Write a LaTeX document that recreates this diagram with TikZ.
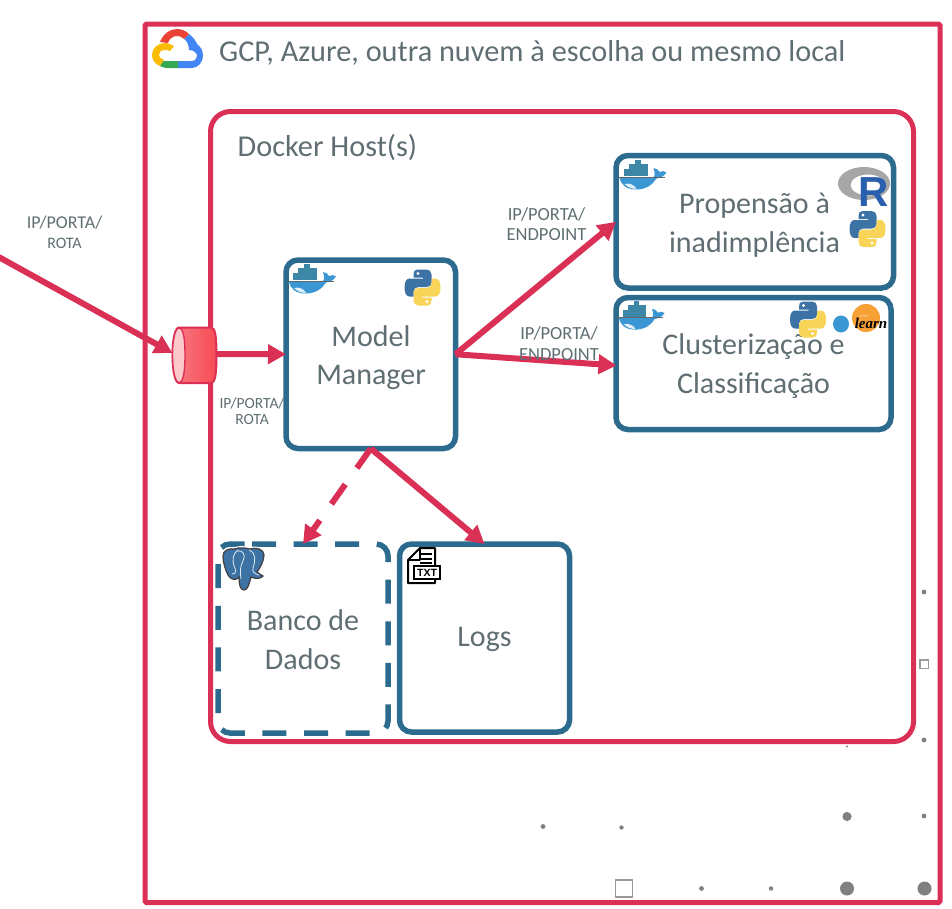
\documentclass[tikz,border=0pt]{standalone}
\usepackage{fontspec}
\setmainfont{Carlito}
\newfontfamily\logofont{Liberation Serif}
\newfontfamily\rfont{Liberation Sans}
\usetikzlibrary{arrows.meta,shadings}
\definecolor{crim}{HTML}{DB3056}
\definecolor{boxblue}{HTML}{2C6A8E}
\definecolor{txtgrey}{HTML}{5F6E72}
\definecolor{pyblue}{HTML}{3D72A5}
\definecolor{pyyellow}{HTML}{F8D458}
\definecolor{dotgrey}{HTML}{808080}
\definecolor{whaleblue}{HTML}{3A97D3}
\definecolor{whaledark}{HTML}{3C87A6}
\definecolor{gred}{HTML}{EA4335}
\definecolor{gblue}{HTML}{4285F4}
\definecolor{ggreen}{HTML}{34A853}
\definecolor{gyellow}{HTML}{FBBC05}
\definecolor{skorange}{HTML}{F7A035}
\definecolor{rblue}{HTML}{2A5FAE}
\tikzset{
  x=1pt,y=-1pt,
  outerbox/.style={draw=crim,line width=5pt,rounded corners=1.5pt},
  innerbox/.style={draw=crim,line width=5pt,rounded corners=20pt},
  svcbox/.style={draw=boxblue,line width=5.5pt,rounded corners=12pt,fill=white,inner sep=0pt,outer sep=0pt},
  dashline/.style={draw=boxblue,line width=5.5pt,rounded corners=12pt,dash pattern=on 24pt off 17.6pt},
  svctext/.style={text=txtgrey,align=center,inner sep=0pt,font=\fontsize{30}{38.5}\selectfont},
  conn/.style={draw=crim,line width=6pt,-{Triangle[length=18pt,width=19pt]}},
  title/.style={text=txtgrey,anchor=west,inner sep=0pt,font=\fontsize{30.3}{34}\selectfont},
  small/.style={text=txtgrey,align=center,inner sep=0pt},
  dot/.style={fill=dotgrey},
  sq/.style={draw=black!40,line width=1.4pt,fill=white},
  pics/pylogo/.style={code={
    \def\pyhalf{(13,0) -- (22,0) .. controls (25,0) and (27,2) .. (27,5) -- (27,13) .. controls (27,16) and (25,17.5) .. (22,17.5) -- (14,17.5) .. controls (11,17.5) and (9,19.5) .. (9,22) -- (9,27) -- (5,27) .. controls (2,27) and (0,24) .. (0,18) .. controls (0,12) and (2,9) .. (5,9) -- (18.5,9) -- (18.5,8) -- (9,8) -- (9,5) .. controls (9,2) and (10,0) .. (13,0) -- cycle}
    \fill[pyblue] \pyhalf;
    \fill[white] (13.5,4) circle (1.6);
    \begin{scope}[rotate around={180:(18,18)}]
      \fill[pyyellow] \pyhalf;
      \fill[white] (13.5,4) circle (1.6);
    \end{scope}
  }},
  pics/whale/.style={code={
    \fill[whaledark] (16,0) rectangle (22,4);
    \fill[whaledark] (10,4) rectangle (29,9);
    \fill[whaledark] (5,9) rectangle (29,16);
    \fill[whaleblue] (1,17) -- (35,17) .. controls (37,16) and (36,11) .. (35,8) .. controls (38,8) and (40,10) .. (41,12) .. controls (44,10.5) and (46,11) .. (48,12.5) .. controls (45,17) and (41,18) .. (38,18.5) .. controls (34,25) and (27,29.5) .. (18,29.5) .. controls (8,29.5) and (2,25) .. (1,17) -- cycle;
    \fill[white!85!whaleblue] (6,24) .. controls (11,22.5) and (16,25) .. (18,28.8) .. controls (13,29) and (9,27) .. (6,24) -- cycle;
    \draw[black!60,line width=.5pt] (-1,16.8) -- (46,16.8);
  }},
  pics/gcloud/.style={code={
    \fill[gblue] (37,5) .. controls (41,8) and (44,12) .. (45,15) .. controls (49,18) and (51,22) .. (51,27) .. controls (51,33) and (46,39) .. (40,39) -- (26,39) -- (26,32) -- (39,32) .. controls (43,32) and (45,30) .. (45,27) .. controls (45,24) and (42,21) .. (37,21) .. controls (37,16) and (35,12) .. (32,10) -- cycle;
    \fill[gred] (8,13) .. controls (11,5) and (18,0) .. (25,0) .. controls (30,0) and (34,2) .. (37,5) -- (32,10) .. controls (30,8) and (28,7) .. (25,7) .. controls (21,7) and (17,10) .. (16,14) -- cycle;
    \fill[ggreen] (10,32) -- (26,32) -- (26,39) -- (15,39) .. controls (13,39) and (11,38.5) .. (8,37) -- cycle;
    \fill[gyellow] (13,14) .. controls (6,14) and (0,19) .. (0,26) .. controls (0,31) and (3,35) .. (8,37) -- (12,31) .. controls (9,30) and (7,28) .. (7,26) .. controls (7,23) and (9,21) .. (13,21) .. controls (15,21) and (17,21.5) .. (18,22) -- (22,17) .. controls (19,15) and (16,14) .. (13,14) -- cycle;
  }},
  pics/pgelephant/.style={code={
    \path[fill=pyblue,draw=black!75,line width=1.2pt,preaction={draw=white,line width=3.5pt}] (1,8) .. controls (1,3) and (6,0) .. (12,1) .. controls (18,-1) and (24,0) .. (28,1) .. controls (34,-1) and (42,1) .. (42,7) .. controls (42,13) and (38,20) .. (35,24) .. controls (37,26) and (40,27) .. (41,28) .. controls (39,31) and (33,31) .. (29,29) .. controls (27,36) and (26,42) .. (22,42) .. controls (18,42) and (17,36) .. (17,29) .. controls (14,33) and (9,32) .. (6,27) .. controls (3,21) and (1,14) .. (1,8) -- cycle;
    \draw[white!85!pyblue,line width=.8pt] (16,2) .. controls (11,5) and (10,12) .. (12,18) .. controls (14,22) and (15,26) .. (10,26);
    \draw[white!85!pyblue,line width=.8pt] (16,3) .. controls (21,2) and (24,7) .. (21,13) .. controls (18,18) and (18,24) .. (19,31);
    \draw[white!85!pyblue,line width=.8pt] (27,2) .. controls (35,5) and (33,14) .. (31,20) .. controls (30,23) and (32,26) .. (37,27);
  }},
}
\begin{document}
\begin{tikzpicture}
\useasboundingbox (0,0) rectangle (952,908);
% frames
\path[outerbox] (145,24) rectangle (940,902.5);
\path[innerbox] (210.5,111.5) rectangle (913.5,741.5);
% small marks along the edges
\fill[dot] (924,592) circle (2.4);
\path[sq] (920,660) rectangle (928.5,668.5);
\fill[dot] (924,740) circle (2.4);
\fill[dot] (847,746.5) circle (1.2);
\fill[dot] (847,816.5) circle (4.6);
\fill[dot] (924,816) circle (2.4);
\fill[dot] (543,826.5) circle (2.4);
\fill[dot] (621.5,827.5) circle (2.2);
\path[sq] (615.5,880) rectangle (632.5,897);
\fill[dot] (701.5,888.5) circle (2.4);
\fill[dot] (771,888.5) circle (2.2);
\fill[dot] (847,888.5) circle (7);
\fill[dot] (924.5,888.5) circle (7);
% titles
\node[title] (gcp) at (219,53) {GCP, Azure, outra nuvem à escolha ou mesmo local};
\node[title] (host) at (237.5,148) {Docker Host(s)};
% service boxes
\node[svcbox,minimum width=277.5pt,minimum height=132.5pt] (prop) at (754.75,221.75) {};
\node[svcbox,minimum width=275pt,minimum height=132pt] (clust) at (753.5,363.5) {};
\node[svcbox,minimum width=169.5pt,minimum height=188.5pt] (mm) at (370.75,354.25) {};
\node[svcbox,draw=none,fill=none,minimum width=170pt,minimum height=189pt] (banco) at (303,638.5) {};
\path[dashline] (252,544) -- (388,544) -- (388,733) -- (218,733) -- (218,544) -- (252,544);
\node[svcbox,minimum width=170pt,minimum height=188pt] (logs) at (484.5,638) {};
\node[svctext] (propt) at (754.5,225) {Propensão à\\inadimplência};
\node[svctext] (clustt) at (753.5,366) {Clusterização e\\Classificação};
\node[svctext] (mmt) at (371,357.5) {Model\\Manager};
\node[svctext] (bancot) at (303,639.5) {Banco de\\Dados};
\node[svctext] (logst) at (484.5,639.5) {Logs};
% gateway cylinder
\node[minimum width=45pt,minimum height=57pt,inner sep=0pt,outer sep=0pt] (cyl) at (194.5,354) {};
\coordinate (src) at (-4,255.5);
\coordinate (cylin) at (172.5,353);
\coordinate (clustin) at (616.5,365.5);
% connectors
\draw[conn] (src) -- (cylin);
\draw[conn] (cyl.east) -- (mm.west);
\draw[conn] (mm.east) -- (prop.west);
\draw[conn] (mm.east) -- (clustin);
\draw[conn] (mm.south) -- (logs.north);
\draw[conn,dash pattern=on 24pt off 20pt] (mm.south) -- (banco.north);
% labels
\node[small,font=\fontsize{18}{19.5}\selectfont] (lab1) at (64.5,232.5) {IP/PORTA/\\{\fontsize{16}{19.5}\selectfont ROTA}};
\node[small,font=\fontsize{15.5}{16.5}\selectfont] (lab2) at (252,411) {IP/PORTA/\\ROTA};
\node[small,font=\fontsize{18.5}{20}\selectfont] (lab3) at (546.5,224) {IP/PORTA/\\ENDPOINT};
\node[small,font=\fontsize{18.5}{20.5}\selectfont] (lab4) at (559,343.5) {IP/PORTA/\\ENDPOINT};
% cylinder body
\shade[left color=red!25!pink!80!crim,right color=red!70!crim!75!white,draw=crim,line width=2pt]
  (179,327.5) -- (211,327.5) .. controls (215,327.5) and (216.5,335) .. (216.5,355) .. controls (216.5,375) and (215,383) .. (211,383) -- (179,383) .. controls (175,383) and (172.5,370) .. (172.5,355) .. controls (172.5,340) and (175,327.5) .. (179,327.5) -- cycle;
\path[fill=pink!80!crim!60!white,draw=crim,line width=1.4pt] (179,328) .. controls (184,328) and (185,342) .. (185,355) .. controls (185,368) and (184,382.5) .. (179,382.5) .. controls (175,382.5) and (172.5,370) .. (172.5,355) .. controls (172.5,340) and (175,328) .. (179,328) -- cycle;
% logos
\pic at (152,29) {gcloud};
\pic at (288,264) {whale};
\pic at (618.5,160) {whale};
\pic[scale=.97] at (618,301) {whale};
\pic at (404.5,269.5) {pylogo};
\pic at (849.5,211) {pylogo};
\pic at (790,301.5) {pylogo};
% R logo
\path[fill=black!35,even odd rule] (864,183.5) ellipse (26 and 16.5) (868,185) ellipse (17.5 and 10.5);
\node[inner sep=0pt,text=rblue,font=\rfont\bfseries\fontsize{42}{42}\selectfont] (rlogo) at (874,192.5) {R};
% scikit-learn logo
\fill[whaleblue] (841,324) ellipse (8 and 8.5);
\fill[skorange] (866,318) circle (14);
\node[inner sep=0pt,text=white!60!skorange,font=\fontsize{4.5}{5}\selectfont] (scikit) at (864,315.5) {scikit};
\node[inner sep=0pt,font=\logofont\itshape\bfseries\fontsize{15}{15}\selectfont] (learn) at (871,323.5) {learn};
% database and file icons
\pic at (222,548) {pgelephant};
\path[draw=black,line width=2pt,fill=white,line join=round] (435,579) -- (435,583) -- (408,583) -- (408,560) -- (420,548) -- (435,548) -- (435,566);
\path[draw=black,line width=1.6pt,line join=round] (408,560) -- (420,560) -- (420,548);
\draw[black,line width=1.6pt] (420,554) -- (432,554) (420,559) -- (432,559) (420,563) -- (432,563);
\path[draw=black,line width=1.8pt,fill=white] (414,566) rectangle (440,579);
\node[inner sep=0pt,font=\rfont\bfseries\fontsize{10.5}{11}\selectfont] (txt) at (427,572.5) {TXT};
\end{tikzpicture}
\end{document}
